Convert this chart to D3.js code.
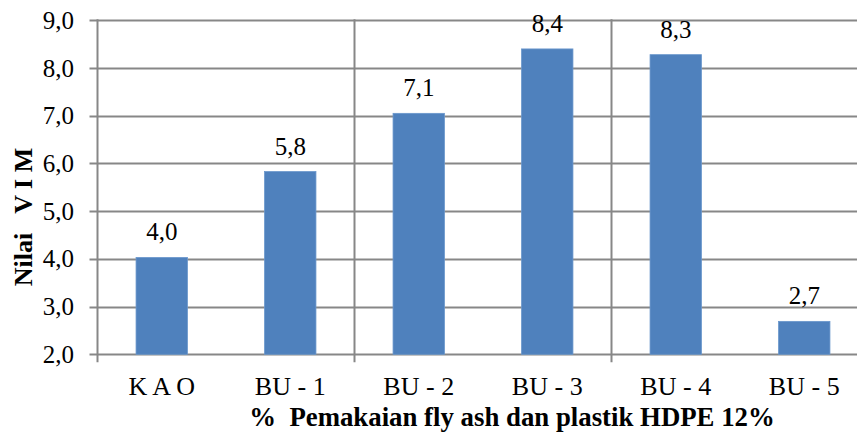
<!DOCTYPE html>
<html><head><meta charset="utf-8">
<script src="https://cdn.jsdelivr.net/npm/d3@7"></script>
<style>html,body{margin:0;padding:0;background:#fff;overflow:hidden}</style>
</head><body>
<svg id="c" width="857" height="432"></svg>
<script>
const categories = ["K A O", "BU - 1", "BU - 2", "BU - 3", "BU - 4", "BU - 5"];
const values = [4.03, 5.83, 7.05, 8.40, 8.28, 2.69];
const valueLabels = ["4,0", "5,8", "7,1", "8,4", "8,3", "2,7"];
const yTicks = [2, 3, 4, 5, 6, 7, 8, 9];
const xTitle = "% \u00A0Pemakaian fly ash dan plastik HDPE 12%";
const yTitle = "Nilai \u00A0 V I M";

(function () {
const svg = d3.select("#c");
const pLeft = 97.5, pRight = 868.5, pTop = 20.3, pBottom = 354.3;
const font = "'Liberation Serif','Times New Roman',serif";
const grid = "#878787";

const x = d3.scaleBand().domain(categories).range([pLeft, pRight]).padding(0);
const y = d3.scaleLinear().domain([2, 9]).range([pBottom, pTop]);
const fmt = v => d3.format(".1f")(v).replace(".", ",");

// horizontal gridlines + ticks
svg.append("g").selectAll("line").data(yTicks).join("line")
  .attr("x1", pLeft - 8).attr("x2", 857)
  .attr("y1", d => Math.round(y(d)) + 0.5).attr("y2", d => Math.round(y(d)) + 0.5)
  .attr("stroke", grid).attr("stroke-width", 2);

// vertical lines every 2 categories
const vIdx = [0, 2, 4];
svg.append("g").selectAll("line").data(vIdx).join("line")
  .attr("x1", i => x(categories[i])).attr("x2", i => x(categories[i]))
  .attr("y1", pTop - 1).attr("y2", pBottom + 8)
  .attr("stroke", grid).attr("stroke-width", 2);

// y tick labels
svg.append("g").selectAll("text").data(yTicks).join("text")
  .attr("x", 74).attr("y", d => y(d) + 8.5)
  .attr("text-anchor", "end")
  .attr("font-family", font).attr("font-size", 25).attr("fill", "#000")
  .text(fmt);

// bars
const bw = x.bandwidth() * 0.4;
svg.append("g").selectAll("rect").data(values).join("rect")
  .attr("x", (d, i) => x(categories[i]) + x.bandwidth() / 2 - bw / 2)
  .attr("width", bw)
  .attr("y", d => y(d)).attr("height", d => y(2) - y(d))
  .attr("fill", "#4F81BD").attr("stroke", "#6a97cc").attr("stroke-width", 0.8);

// value labels
svg.append("g").selectAll("text").data(values).join("text")
  .attr("x", (d, i) => x(categories[i]) + x.bandwidth() / 2)
  .attr("y", d => y(d) - 17)
  .attr("text-anchor", "middle")
  .attr("font-family", font).attr("font-size", 25).attr("fill", "#000")
  .text((d, i) => valueLabels[i]);

// category labels
svg.append("g").selectAll("text").data(categories).join("text")
  .attr("x", d => x(d) + x.bandwidth() / 2)
  .attr("y", 395)
  .attr("text-anchor", "middle")
  .attr("font-family", font).attr("font-size", 26).attr("fill", "#000")
  .text(d => d);

// x title
svg.append("text").attr("x", 512).attr("y", 426)
  .attr("text-anchor", "middle")
  .attr("font-family", font).attr("font-size", 26.8).attr("font-weight", "bold")
  .text(xTitle);

// y title
svg.append("text")
  .attr("transform", "translate(32,217) rotate(-90)")
  .attr("text-anchor", "middle")
  .attr("font-family", font).attr("font-size", 26).attr("font-weight", "bold")
  .text(yTitle);
})();
</script>
</body></html>
